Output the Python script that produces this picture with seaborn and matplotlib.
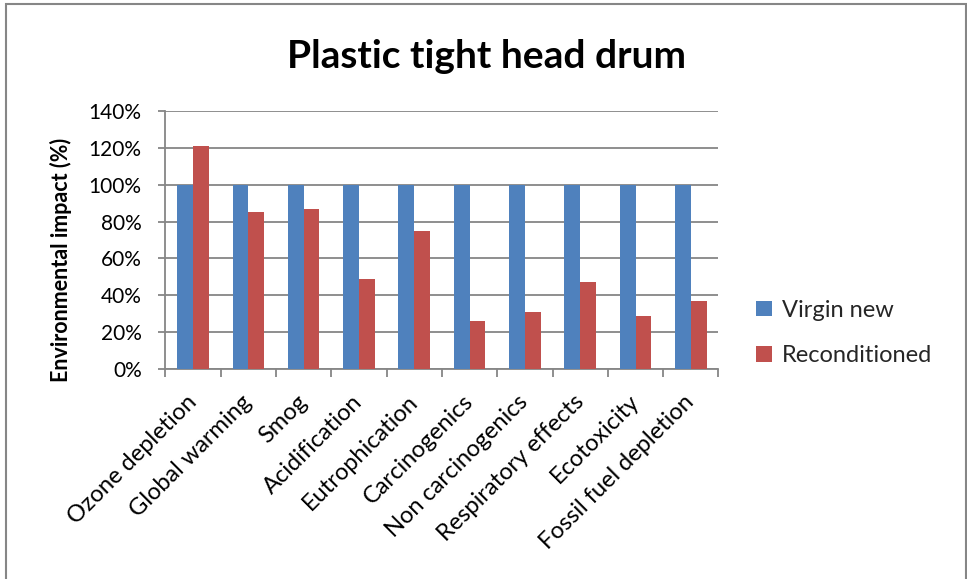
import matplotlib
matplotlib.use("Agg")
import matplotlib.pyplot as plt
import matplotlib.patches as mpatches
import numpy as np
import pandas as pd
import seaborn as sns

categories = ["Ozone depletion", "Global warming", "Smog", "Acidification",
              "Eutrophication", "Carcinogenics", "Non carcinogenics",
              "Respiratory effects", "Ecotoxicity", "Fossil fuel depletion"]
virgin_new = [100, 100, 100, 100, 100, 100, 100, 100, 100, 100]
reconditioned = [121, 85, 87, 49, 75, 26, 31, 47, 29, 37]
series_names = ["Virgin new", "Reconditioned"]
y_ticks = [0, 20, 40, 60, 80, 100, 120, 140]

df = pd.DataFrame({
    "Category": categories * 2,
    "Series": [series_names[0]] * len(categories) + [series_names[1]] * len(categories),
    "Impact": virgin_new + reconditioned,
})

sns.set_theme(style="white")
plt.rcParams["font.family"] = ["Lato", "DejaVu Sans"]

grid_col = "#868686"
fig = plt.figure(figsize=(9.67, 5.79), dpi=100)
ax = fig.add_axes([0.171, 0.3622, 0.572, 0.4466])

sns.barplot(data=df, x="Category", y="Impact", hue="Series",
            palette=["#4F81BD", "#C0504D"], width=0.57, gap=0,
            saturation=1, linewidth=0, ax=ax, legend=True, zorder=3)

ax.set_ylim(0, 140)
ax.set_xlim(-0.5, len(categories) - 0.5)
ax.set_yticks(y_ticks)
ax.set_yticklabels([f"{t}%" for t in y_ticks], fontsize=15, color="black")
ax.yaxis.grid(True, color=grid_col, lw=1.3, zorder=0)
ax.set_axisbelow(True)

ax.set_xticks(range(len(categories)))
ax.set_xticklabels(categories, rotation=45, ha="right", va="center",
                   rotation_mode="anchor", fontsize=17, color="black")
ax.tick_params(axis="x", which="major", length=0, pad=21)
ax.set_xticks(np.arange(-0.5, len(categories)), minor=True)
ax.tick_params(axis="x", which="minor", length=6, color=grid_col, width=1.3,
               direction="out", bottom=True)
ax.tick_params(axis="y", length=5, color=grid_col, width=1.3,
               direction="out", left=True, pad=12)

for side in ["top", "right"]:
    ax.spines[side].set_visible(False)
for side in ["left", "bottom"]:
    ax.spines[side].set_color(grid_col)
    ax.spines[side].set_linewidth(1.3)

ax.set_xlabel("")
ax.set_ylabel("Environmental impact (%)", fontsize=15.5, fontweight="bold",
              color="black")
ax.yaxis.set_label_coords(-0.168, 0.422)

handles, labels = ax.get_legend_handles_labels()
ax.legend(handles, labels, loc="center left", bbox_to_anchor=(1.03, 0.14),
          frameon=False, fontsize=17, handlelength=0.65, handleheight=0.65,
          handletextpad=0.45, labelspacing=1.05)

fig.text(0.503, 0.903, "Plastic tight head drum", ha="center", va="center",
         fontsize=28, fontweight="bold", color="black")

fig.add_artist(mpatches.Rectangle((6 / 967, -0.1), 960 / 967, 1.1 - 4 / 579,
                                  transform=fig.transFigure, fill=False,
                                  edgecolor=grid_col, lw=1.5))

fig.savefig("out.png", dpi=100, facecolor="white")
